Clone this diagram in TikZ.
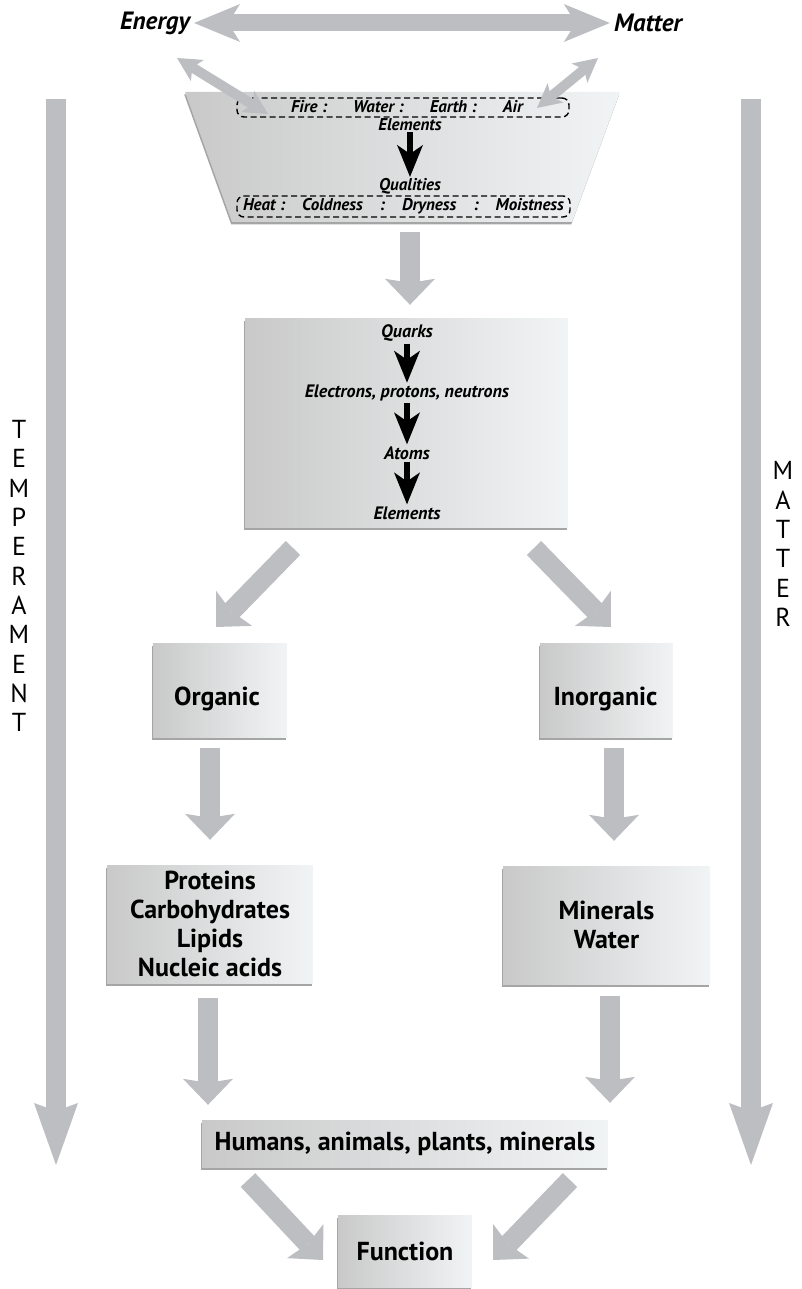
\documentclass[tikz,border=0pt]{standalone}
\usepackage{fontspec}
\setmainfont{PT Sans}
\usetikzlibrary{arrows.meta,shadows,calc}

\definecolor{arrgray}{RGB}{188,190,193}
\definecolor{boxl}{RGB}{201,201,201}
\definecolor{boxr}{RGB}{241,244,245}

\tikzset{
  fatarr/.style={draw=arrgray, line width=20pt,
    -{Stealth[length=26pt,width=50pt,inset=4pt,line width=0pt]}},
  sidearr/.style={draw=arrgray, line width=20pt,
    -{Stealth[length=62pt,width=44pt,inset=8pt,line width=0pt]}},
  thinarr/.style={draw=arrgray, line width=10pt,
    {Stealth[length=24pt,width=25pt,inset=6pt,line width=0pt]}-{Stealth[length=24pt,width=25pt,inset=6pt,line width=0pt]}},
  toparr/.style={draw=arrgray, line width=17pt,
    {Stealth[length=46pt,width=38pt,inset=12pt,line width=0pt]}-{Stealth[length=46pt,width=38pt,inset=12pt,line width=0pt]}},
  blkarr/.style={draw=black, line width=6pt,
    -{Stealth[length=32pt,width=26pt,inset=9pt,line width=0pt]}},
  shad/.style={drop shadow={shadow xshift=-0.8pt, shadow yshift=-2.5pt, fill=black!70}},
  box/.style={shad, left color=boxl, right color=boxr, inner sep=0pt, align=center,
    font=\bfseries\fontsize{26}{29}\selectfont},
  btxt/.style={font=\bfseries\fontsize{26}{29}\selectfont, inner sep=0pt},
  dbox/.style={draw=black, line width=1.4pt, dash pattern=on 6pt off 3.5pt, rounded corners=7pt},
  itl/.style={font=\bfseries\itshape\fontsize{18}{20}\selectfont, inner sep=2pt},
  fitl/.style={font=\bfseries\itshape\fontsize{17}{19}\selectfont, inner sep=1pt},
  hdr/.style={font=\bfseries\itshape\fontsize{25}{28}\selectfont, inner sep=4pt},
  side/.style={font=\fontsize{26}{29.3}\selectfont, align=center, inner sep=0pt}
}

\begin{document}
\begin{tikzpicture}[x=1pt, y=-1pt]
\useasboundingbox (0,0) rectangle (802,1289);

% side arrows
\coordinate (ltop) at (56,99);
\coordinate (lbot) at (56,1165);
\coordinate (rtop) at (751,99);
\coordinate (rbot) at (751,1165);
\draw[sidearr] (ltop) -- (lbot);
\draw[sidearr] (rtop) -- (rbot);
\node[side] (temper) at (19,576) {T\\E\\M\\P\\E\\R\\A\\M\\E\\N\\T};
\node[side] (mattr) at (783,544) {M\\A\\T\\T\\E\\R};

% funnel
\coordinate (ftl) at (185,92);
\coordinate (ftr) at (620,92);
\coordinate (fbr) at (572,222);
\coordinate (fbl) at (232,222);
\coordinate (fbot) at (410,222);
\path[shad, left color=boxl, right color=boxr] (ftl) -- (ftr) -- (fbr) -- (fbl) -- cycle;

\node[dbox, minimum width=332pt, minimum height=19pt] (elembox) at (403,107.5) {};
\node[fitl] (fire) at (407,107) {Fire :\hspace{26pt}Water :\hspace{26pt}Earth :\hspace{26pt}Air};
\node[fitl] (elem1) at (410,125) {Elements};
\node[fitl] (qual) at (410,186) {Qualities};
\node[fitl, dbox, minimum width=333pt, minimum height=21pt] (qualbox) at (403.5,206.5)
  {Heat :\hspace{17pt}Coldness\hspace{17pt}:\hspace{17pt}Dryness\hspace{17pt}:\hspace{17pt}Moistness};
\draw[blkarr] (elem1) -- (qual);

% energy and matter
\node[hdr] (energy) at (155,23) {Energy};
\node[hdr] (matter) at (648,23) {Matter};
\draw[toparr] (energy) -- (matter);
\coordinate (ediag) at (177,58);
\coordinate (fdiag) at (268,114);
\coordinate (mdiag) at (598,58);
\coordinate (adiag) at (537,108);
\draw[thinarr] (ediag) -- (fdiag);
\draw[thinarr] (mdiag) -- (adiag);

% core box
\node[box, minimum width=323pt, minimum height=209pt] (core) at (406.5,422.5) {};
\node[itl] (quarks) at (407,333) {Quarks};
\node[itl] (elec) at (407,393) {Electrons, protons, neutrons};
\node[itl] (atoms) at (407,453) {Atoms};
\node[itl] (elem2) at (407,513) {Elements};
\draw[blkarr] (quarks) -- (elec);
\draw[blkarr] (elec) -- (atoms);
\draw[blkarr] (atoms) -- (elem2);
\draw[fatarr, shorten <=10pt, shorten >=13pt] (fbot) -- (fbot |- core.north);

% organic / inorganic
\node[box, minimum width=134pt, minimum height=94pt] (org) at (220,690) {};
\node[btxt] (orgt) at ([xshift=-3pt,yshift=-9pt]org.center) {Organic};
\node[box, minimum width=133pt, minimum height=94pt] (inorg) at (606.5,690) {};
\node[btxt] (inorgt) at ([xshift=-1pt,yshift=-9pt]inorg.center) {Inorganic};
\coordinate (cl) at (293,548);
\coordinate (ol) at (216,627);
\coordinate (cr) at (534,548);
\coordinate (or) at (611,627);
\draw[fatarr] (cl) -- (ol);
\draw[fatarr] (cr) -- (or);

% compounds
\node[box, minimum width=206pt, minimum height=118pt] (prot) at (210,924)
  {Proteins\\Carbohydrates\\Lipids\\Nucleic acids};
\node[box, minimum width=207pt, minimum height=118pt] (minr) at (606.5,925)
  {Minerals\\Water};
\draw[fatarr, shorten <=11pt, shorten >=25pt] ([xshift=-10pt]org.south) -- ([xshift=-10pt]org.south |- prot.north);
\draw[fatarr, shorten <=11pt, shorten >=25pt] ([xshift=7.5pt]inorg.south) -- ([xshift=7.5pt]inorg.south |- minr.north);

% living things and function
\node[box, minimum width=406pt, minimum height=47pt] (life) at (405,1143.5)
  {Humans, animals, plants, minerals};
\node[box, minimum width=134pt, minimum height=72pt] (func) at (405,1251) {Function};
\draw[fatarr, shorten <=15pt, shorten >=15pt] ([xshift=-2pt]prot.south) -- ([xshift=-2pt]prot.south |- life.north);
\draw[fatarr, shorten <=12pt, shorten >=17pt] ([xshift=3.5pt]minr.south) -- ([xshift=3.5pt]minr.south |- life.north);
\coordinate (ll) at (248,1180);
\coordinate (fl) at (323,1260);
\coordinate (lr) at (570,1180);
\coordinate (fr) at (493,1260);
\draw[fatarr] (ll) -- (fl);
\draw[fatarr] (lr) -- (fr);
\end{tikzpicture}
\end{document}
